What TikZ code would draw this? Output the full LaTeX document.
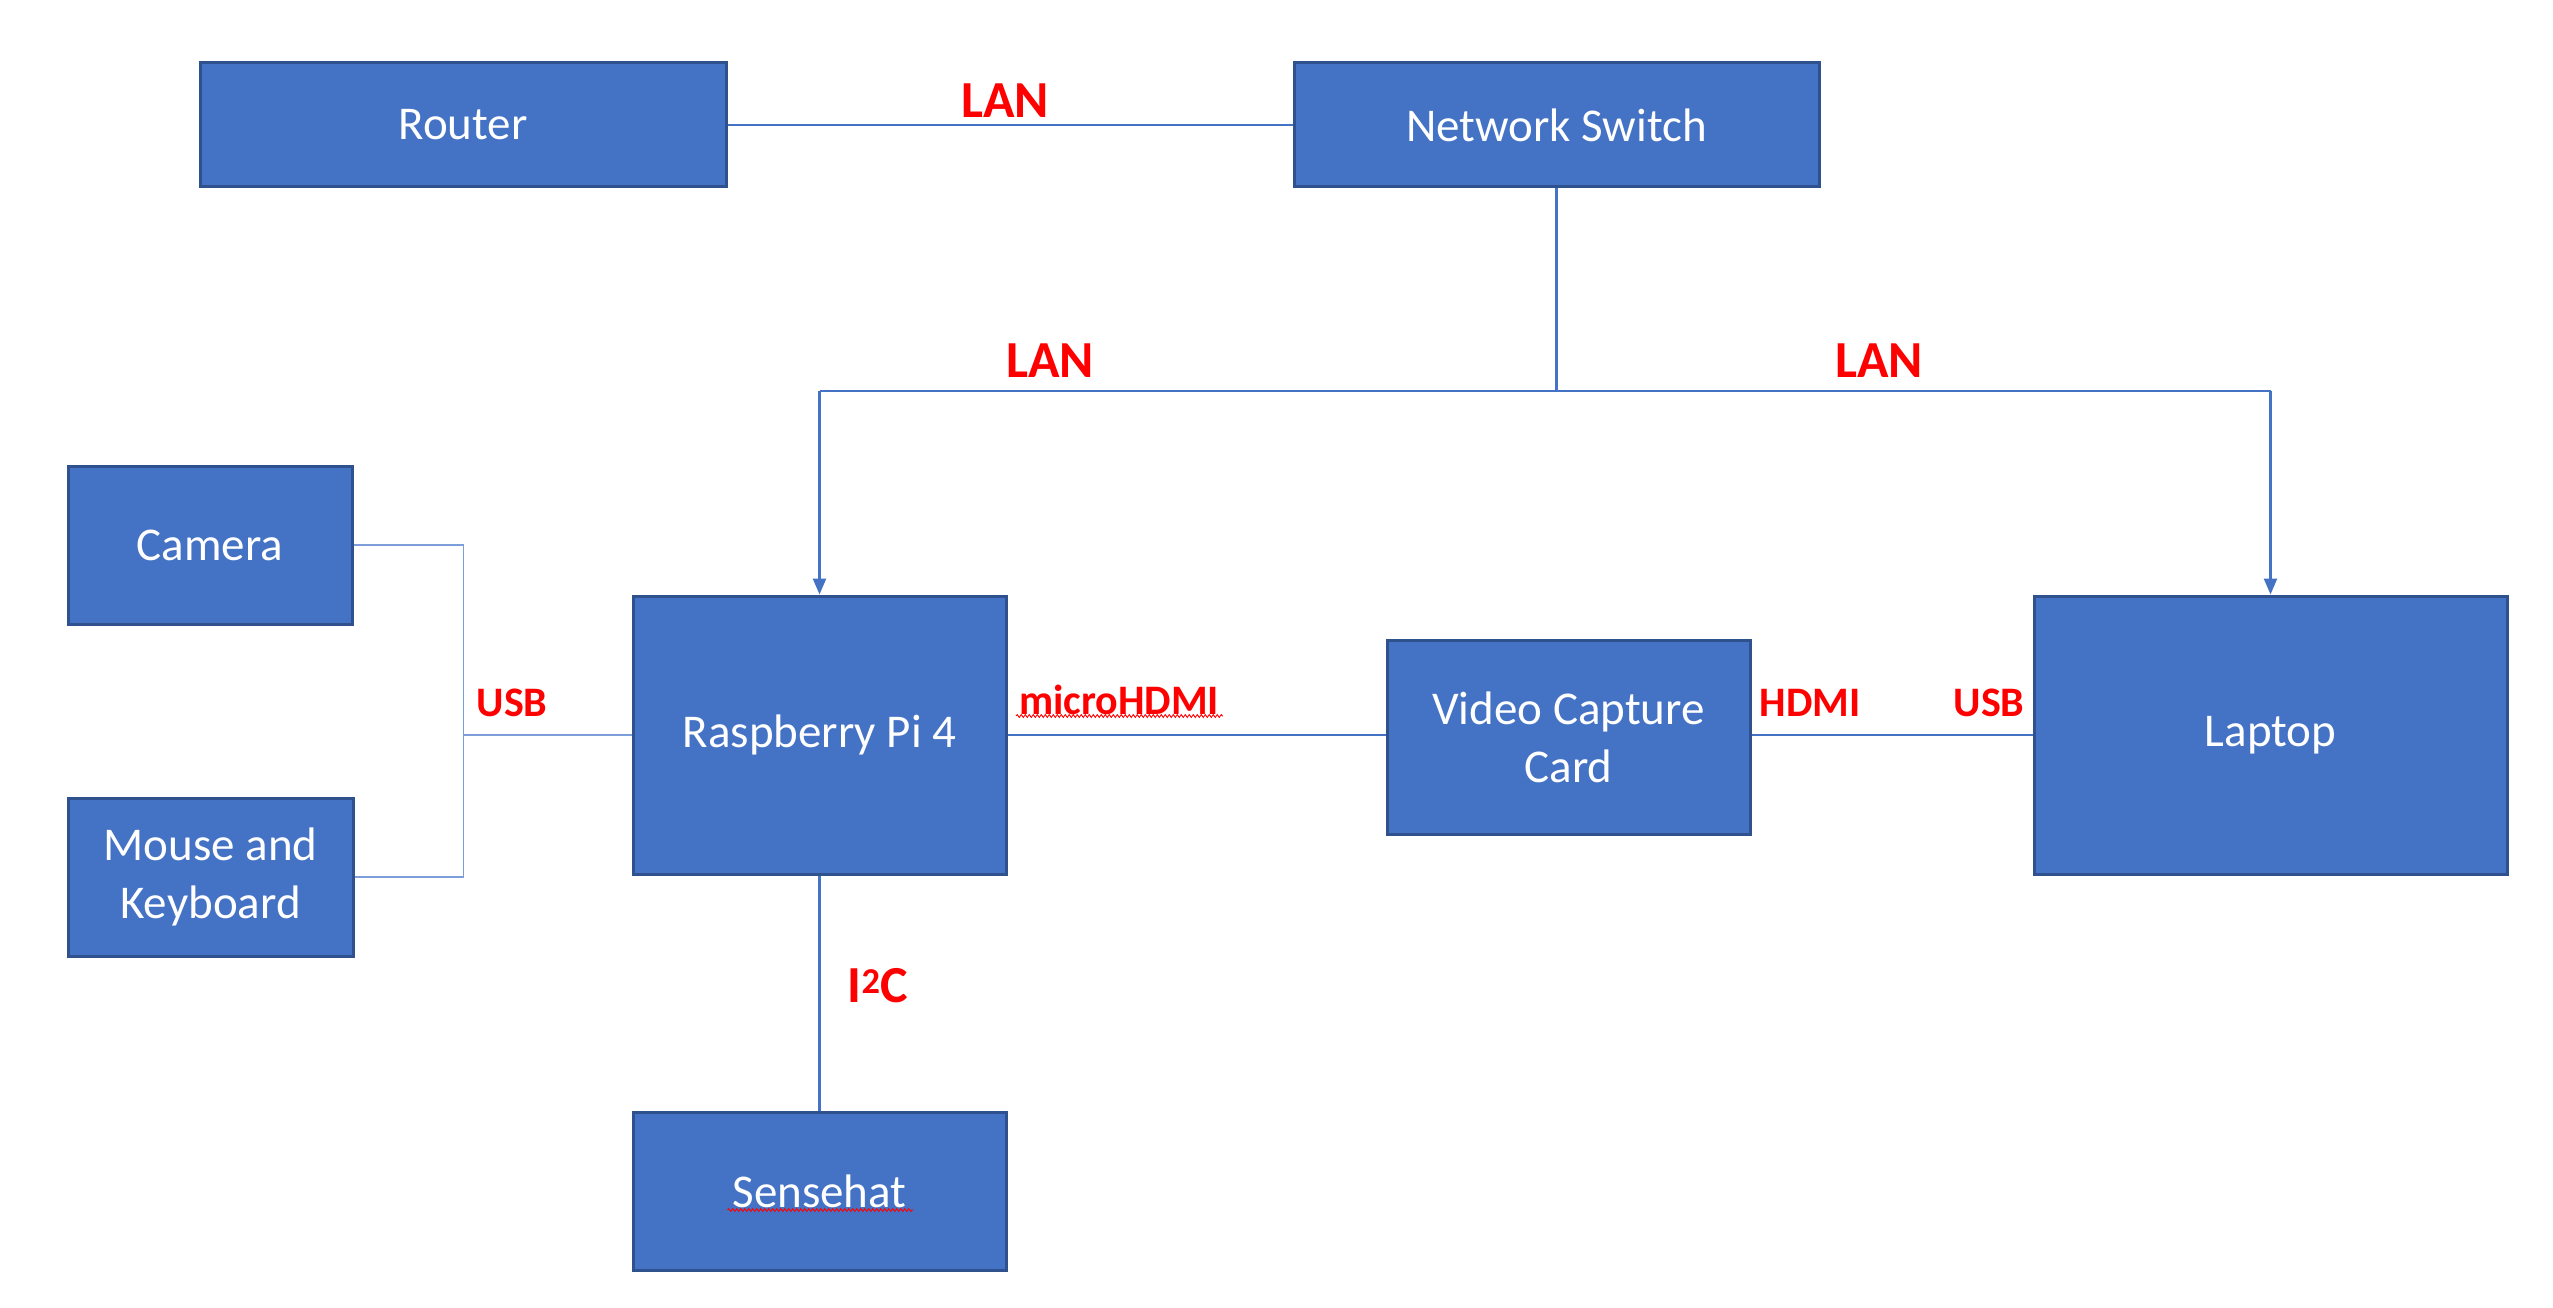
\documentclass[tikz,border=0pt]{standalone}
\usepackage{fontspec}
\setmainfont{Carlito}
\usetikzlibrary{arrows.meta,decorations.pathmorphing}
\definecolor{boxblue}{HTML}{4472C4}
\definecolor{boxedge}{HTML}{2F528F}
\definecolor{lineblue}{HTML}{4472C4}
\definecolor{lightline}{HTML}{7C9EDA}
\definecolor{lblred}{HTML}{FF0000}
\begin{document}
\begin{tikzpicture}[x=1pt,y=-1pt,
  block/.style={draw=boxedge,line width=3pt,fill=boxblue,text=white,
    font=\fontsize{47}{58}\selectfont,align=center,inner sep=0pt},
  conn/.style={draw=lineblue,line width=2.5pt},
  thinconn/.style={draw=lineblue,line width=1.8pt},
  usbconn/.style={draw=lightline,line width=1.5pt},
  arrowconn/.style={conn,-{Triangle[length=16pt,width=13pt]}},
  biglbl/.style={text=lblred,font=\fontsize{52}{60}\selectfont\bfseries,inner sep=0pt},
  lbl/.style={text=lblred,font=\fontsize{42}{50}\selectfont\bfseries,inner sep=0pt},
  squiggle/.style={draw=lblred,line width=0.9pt,decorate,
    decoration={snake,amplitude=1.4pt,segment length=4pt}}
]
\useasboundingbox[fill=white] (0,0) rectangle (2553,1308);

% boxes
\node[block,minimum width=526pt,minimum height=124pt] (router) at (463,125) {Router};
\node[block,minimum width=525pt,minimum height=124pt] (switch) at (1556.5,125) {Network Switch};
\node[block,minimum width=284pt,minimum height=158pt] (cam) at (210,545) {Camera};
\node[block,minimum width=285pt,minimum height=158pt] (mouse) at (210.5,877) {Mouse and\\Keyboard};
\node[block,minimum width=373pt,minimum height=278pt] (pi) at (819.5,735) {Raspberry Pi 4};
\node[block,minimum width=363pt,minimum height=194pt] (vcc) at (1568.5,737) {Video Capture\\Card};
\node[block,minimum width=473pt,minimum height=278pt] (laptop) at (2270.5,735) {Laptop};
\node[block,minimum width=373pt,minimum height=158pt] (sense) at (819.5,1191) {Sensehat};

% connectors
\draw[conn] (router.east) -- (switch.west);
\coordinate (split) at (1556.5,391);
\draw[conn] (switch.south) -- (split);
\draw[conn] (pi.north |- split) -- (laptop.north |- split);
\draw[arrowconn] (pi.north |- split) -- (pi.north);
\draw[arrowconn] (laptop.north |- split) -- (laptop.north);

\path (cam.east) -- ++(110,0) coordinate (usbtop);
\draw[usbconn] (cam.east) -- (usbtop) |- (mouse.east);
\draw[usbconn] (pi.west) -- (pi.west -| usbtop);

\draw[thinconn] (pi.east) -- (vcc.west |- pi.east);
\draw[thinconn] (vcc.east |- pi.east) -- (laptop.west);
\draw[conn] (pi.south) -- (sense.north);

% labels
\node[biglbl] (lan1) at (1005,101) {LAN};
\node[biglbl] (lan2) at (1050,361) {LAN};
\node[biglbl] (lan3) at (1879,361) {LAN};
\node[lbl] (usb1) at (512,703) {USB};
\node[lbl] (mhdmi) at (1119,700) {microHDMI};
\node[lbl] (hdmi) at (1810,703) {HDMI};
\node[lbl] (usb2) at (1989,703) {USB};
\node[biglbl] (i2c) at (878,986) {I\textsuperscript{2}C};

% spell-check underlines
\draw[squiggle] ([shift={(-103,16)}]mhdmi.center) -- ([shift={(104,16)}]mhdmi.center);
\draw[squiggle] ([shift={(-92,19)}]sense.center) -- ([shift={(94,19)}]sense.center);
\end{tikzpicture}
\end{document}
